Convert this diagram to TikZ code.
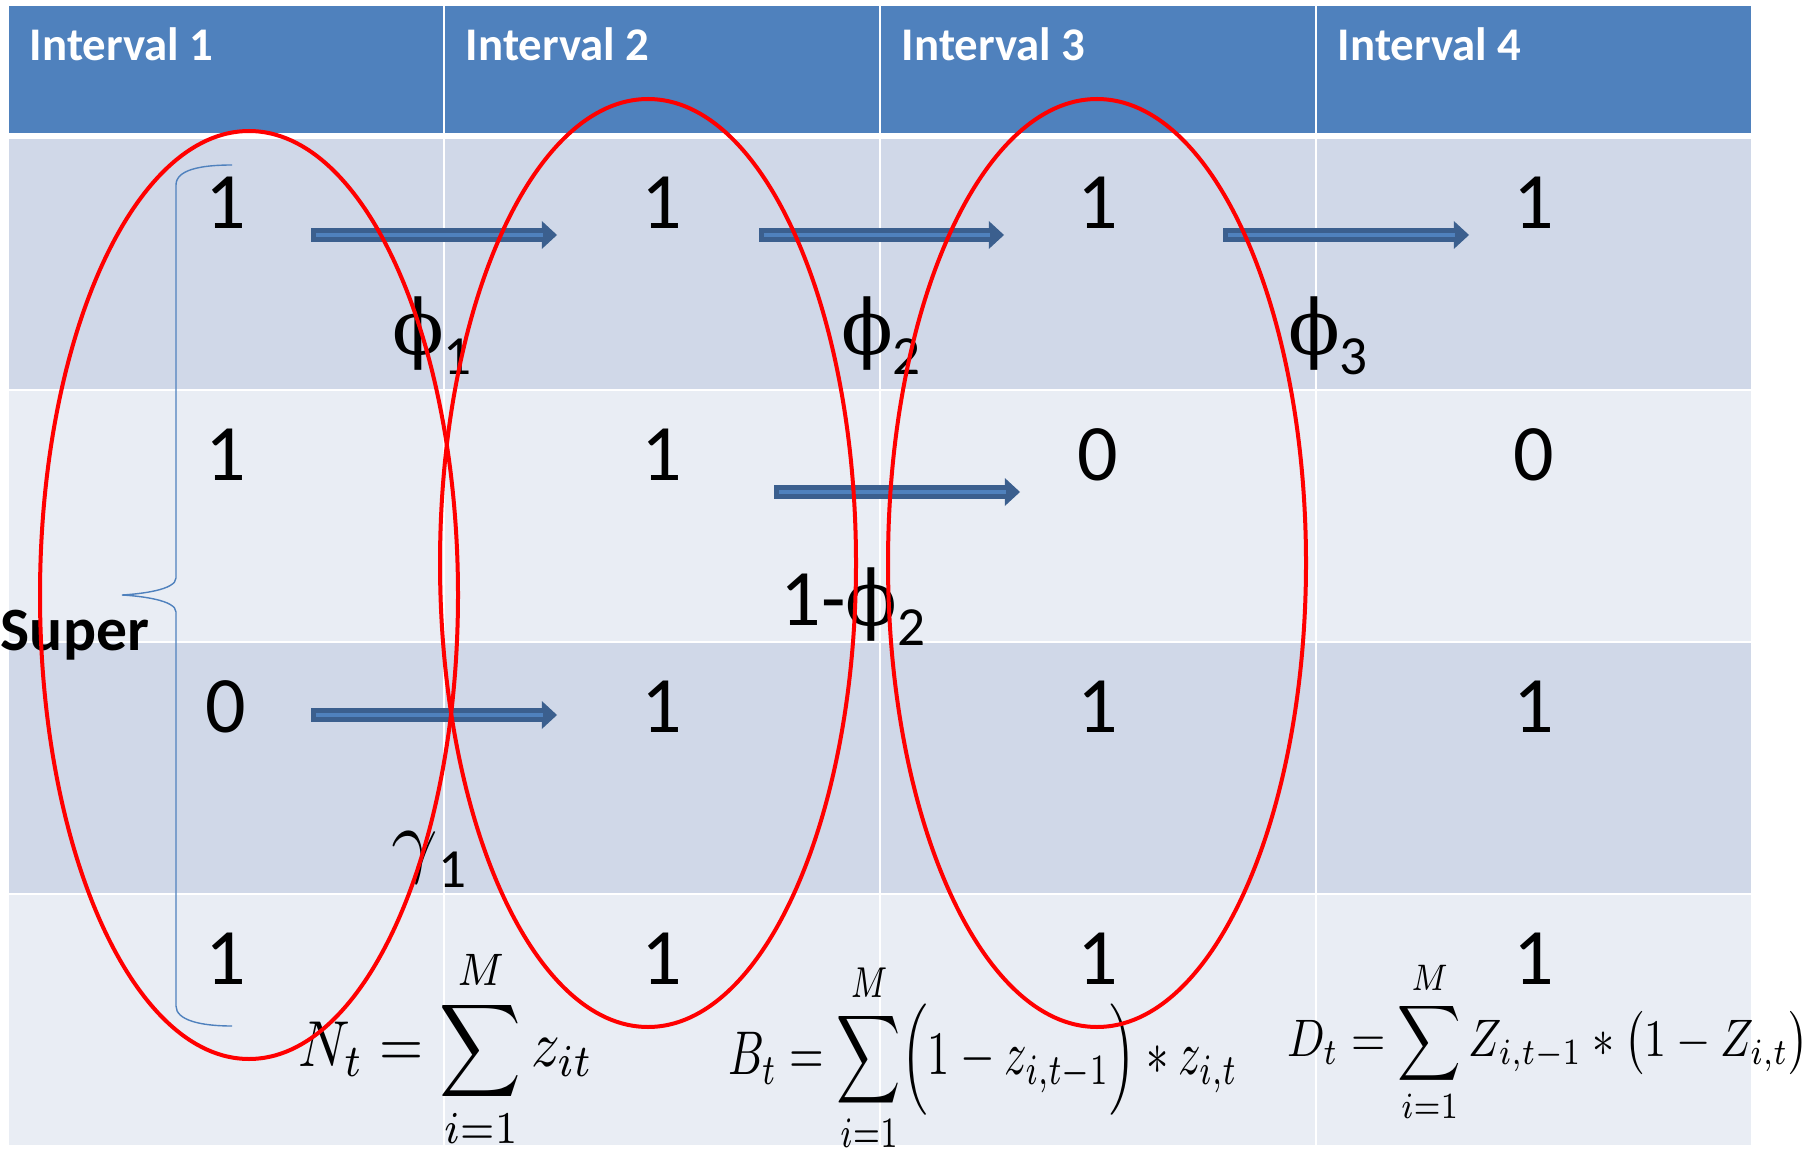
\documentclass[tikz,border=0pt]{standalone}
\usepackage{fontspec}
\setmainfont{Carlito}
\newfontfamily\grkfont{DejaVu Serif}
\usepackage{graphicx}
\usetikzlibrary{positioning,arrows.meta}

\definecolor{headblue}{HTML}{4F81BD}
\definecolor{rowdark}{HTML}{D0D8E8}
\definecolor{rowlight}{HTML}{E9EDF4}
\definecolor{arrowedge}{HTML}{3B5F8E}
\definecolor{ringred}{HTML}{FF0000}

% upright phi with a lowered index
\newcommand{\phiof}[1]{{\grkfont\fontsize{19}{22}\selectfont ϕ}\raisebox{-5pt}{\fontsize{13.8}{16}\selectfont #1}}

\begin{document}
\begin{tikzpicture}[x=0.25pt,y=-0.25pt,
  digit/.style={font=\fontsize{20}{24}\selectfont},
  header/.style={font=\fontsize{11.7}{14}\selectfont\bfseries,text=white,anchor=west,inner sep=0pt},
  greek/.style={font=\fontsize{20}{24}\selectfont,inner sep=0pt},
  blockarrow/.style={draw=arrowedge,line width=3.5pt,
    -{Triangle[width=7pt,length=3.8pt,line width=0pt]},
    postaction={draw=headblue,line width=1pt,-,shorten >=3.5pt,shorten <=1.2pt}},
  ring/.style={draw=ringred,line width=1pt},
  formula/.style={inner sep=0pt}]

\useasboundingbox (0,0) rectangle (1818,1154);

% table
\foreach \x in {9,445,881,1317} {
  \fill[headblue] (\x,6) rectangle ++(434,127);
  \foreach \y/\c in {139/rowdark,391/rowlight,643/rowdark,895/rowlight}
    \fill[\c] (\x,\y) rectangle ++(434,250);
}

\foreach \i/\x in {1/29,2/465,3/901,4/1337}
  \node[header] (h\i) at (\x,44) {Interval \i};

% cells
\foreach \vals [count=\r] in {{1,1,1,1},{1,1,0,0},{0,1,1,1},{1,1,1,1}}
  \foreach \v [count=\c] in \vals
    \node[digit] (d\r\c) at ({226+436*(\c-1)},{203+252*(\r-1)}) {\v};

% brace
\node[font=\fontsize{15.4}{18}\selectfont\bfseries,anchor=west,inner sep=0pt] (super) at (0,635) {Super};
\draw[headblue,line width=0.35pt] (232,165) .. controls (200,165) and (176,170) .. (176,185)
  -- (176,578) .. controls (176,590) and (140,594) .. (122,595)
  .. controls (140,596) and (176,600) .. (176,612)
  -- (176,1006) .. controls (176,1020) and (200,1026) .. (232,1026);

% arrows
\foreach \n/\xs/\xe/\y in {p1/311/557/235,p2/759/1004/235,p3/1223/1469/235,q2/774/1020/492,g1/311/557/715} {
  \coordinate (\n s) at (\xs,\y);
  \coordinate (\n e) at (\xe,\y);
  \draw[blockarrow] (\n s) -- (\n e);
}

\node[greek] (phi1) at (432,336) {\phiof{1}};
\node[greek] (phi2) at (881,336) {\phiof{2}};
\node[greek] (phi3) at (1328,336) {\phiof{3}};
\node[greek] (nphi2) at (853,607) {1-\phiof{2}};
\node[greek] (gam1) at (429,860) {$\gamma$\raisebox{-5pt}{\fontsize{13.8}{16}\selectfont 1}};

% formulas
\node[formula] (fn) at (446,1049) {\resizebox*{73.75pt}{50.5pt}{$\displaystyle N_t=\sum_{i=1}^{M} z_{it}$}};
\node[formula] (fb) at (983,1058) {\resizebox*{127.5pt}{48pt}{$\displaystyle B_t=\sum_{i=1}^{M}\Bigl(1-z_{i,t-1}\Bigr)*z_{i,t}$}};
\node[formula] (fd) at (1548,1042) {\resizebox*{130.5pt}{41pt}{$\displaystyle D_t=\sum_{i=1}^{M}Z_{i,t-1}*\bigl(1-Z_{i,t}\bigr)$}};

% groups
\draw[ring] (249,595) ellipse [x radius=209,y radius=464];
\draw[ring] (648,563) ellipse [x radius=208,y radius=464];
\draw[ring] (1097,563) ellipse [x radius=209,y radius=464];

\end{tikzpicture}
\end{document}
